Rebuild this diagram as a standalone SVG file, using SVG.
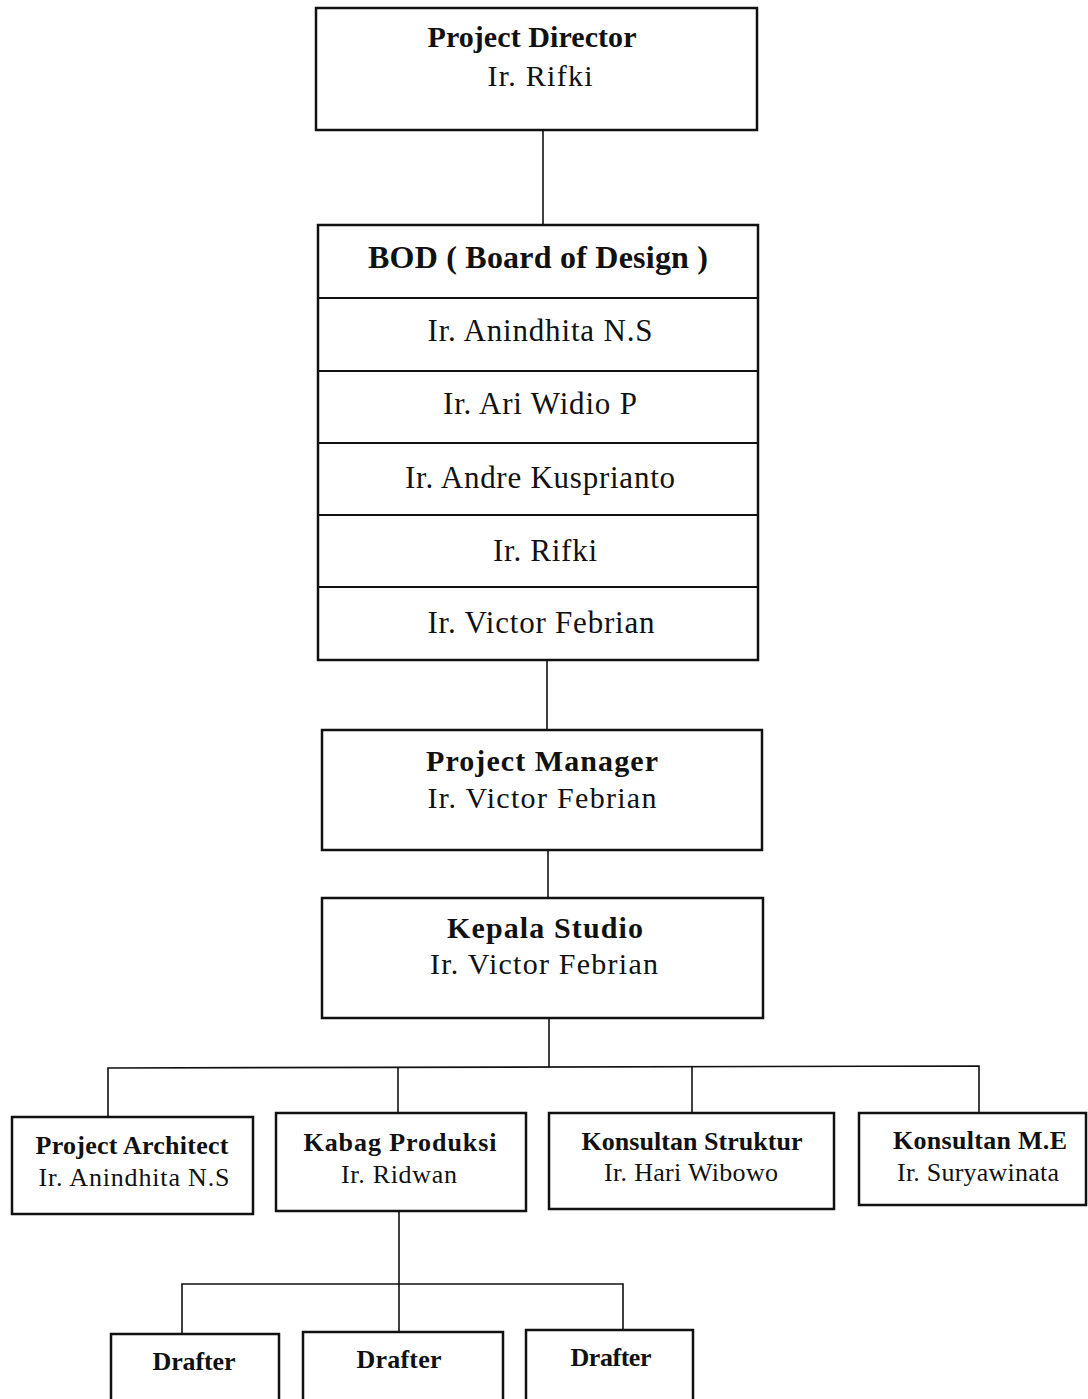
<svg xmlns="http://www.w3.org/2000/svg" width="1088" height="1399" viewBox="0 0 1088 1399">
<style>
.box{fill:#fff;stroke:#111;stroke-width:2.5}
.div{stroke:#111;stroke-width:2}
.ln{fill:none;stroke:#111;stroke-width:1.6}
text{font-family:"Liberation Serif","Times New Roman",serif;fill:#111;text-anchor:middle}
.t{font-weight:bold;font-size:30px}
.n{font-size:30px}
.bt{font-weight:bold;font-size:32px}
.bn{font-size:31px}
.st{font-weight:bold;font-size:26px}
.sn{font-size:26px}
</style>
<rect width="1088" height="1399" fill="#fff"/>
<g id="connectors">
<path class="ln" d="M543 130V225"/>
<path class="ln" d="M547 660V730"/>
<path class="ln" d="M548 850V898"/>
<path class="ln" d="M549 1018V1067"/>
<path class="ln" d="M108 1117V1068L979 1066V1113"/>
<path class="ln" d="M398 1067V1113"/>
<path class="ln" d="M692 1066V1113"/>
<path class="ln" d="M399 1211V1332"/>
<path class="ln" d="M182 1334V1284H623V1330"/>
</g>
<g id="project-director">
<rect class="box" x="316" y="8" width="441" height="122"/>
<text class="t" x="532" y="47" textLength="209" lengthAdjust="spacing">Project Director</text>
<text class="n" x="540" y="86" textLength="105" lengthAdjust="spacing">Ir. Rifki</text>
</g>
<g id="bod">
<rect class="box" x="318" y="225" width="440" height="435"/>
<path class="div" d="M318 298H758M318 371H758M318 443H758M318 515H758M318 587H758"/>
<text class="bt" x="538" y="268" textLength="340" lengthAdjust="spacing">BOD ( Board of Design )</text>
<text class="bn" x="540" y="341" textLength="225" lengthAdjust="spacing">Ir. Anindhita N.S</text>
<text class="bn" x="540" y="414" textLength="194" lengthAdjust="spacing">Ir. Ari Widio P</text>
<text class="bn" x="540" y="488" textLength="270" lengthAdjust="spacing">Ir. Andre Kusprianto</text>
<text class="bn" x="545" y="561" textLength="104" lengthAdjust="spacing">Ir. Rifki</text>
<text class="bn" x="541" y="633" textLength="227" lengthAdjust="spacing">Ir. Victor Febrian</text>
</g>
<g id="project-manager">
<rect class="box" x="322" y="730" width="440" height="120"/>
<text class="t" x="542" y="771" textLength="232" lengthAdjust="spacing">Project Manager</text>
<text class="n" x="542" y="808" textLength="229" lengthAdjust="spacing">Ir. Victor Febrian</text>
</g>
<g id="kepala-studio">
<rect class="box" x="322" y="898" width="441" height="120"/>
<text class="t" x="545" y="938" textLength="196" lengthAdjust="spacing">Kepala Studio</text>
<text class="n" x="544" y="974" textLength="228" lengthAdjust="spacing">Ir. Victor Febrian</text>
</g>
<g id="project-architect">
<rect class="box" x="12" y="1117" width="241" height="97"/>
<text class="st" x="132" y="1154" textLength="193" lengthAdjust="spacing">Project Architect</text>
<text class="sn" x="134" y="1186" textLength="191" lengthAdjust="spacing">Ir. Anindhita N.S</text>
</g>
<g id="kabag-produksi">
<rect class="box" x="276" y="1113" width="250" height="98"/>
<text class="st" x="400" y="1151" textLength="193" lengthAdjust="spacing">Kabag Produksi</text>
<text class="sn" x="399" y="1183" textLength="116" lengthAdjust="spacing">Ir. Ridwan</text>
</g>
<g id="konsultan-struktur">
<rect class="box" x="549" y="1113" width="285" height="96"/>
<text class="st" x="692" y="1150" textLength="221" lengthAdjust="spacing">Konsultan Struktur</text>
<text class="sn" x="691" y="1181" textLength="174" lengthAdjust="spacing">Ir. Hari Wibowo</text>
</g>
<g id="konsultan-me">
<rect class="box" x="859" y="1113" width="227" height="92"/>
<text class="st" x="980" y="1149" textLength="174" lengthAdjust="spacing">Konsultan M.E</text>
<text class="sn" x="978" y="1181" textLength="162" lengthAdjust="spacing">Ir. Suryawinata</text>
</g>
<g id="drafter-1">
<rect class="box" x="111" y="1334" width="168" height="80"/>
<text class="st" x="194" y="1370" textLength="83" lengthAdjust="spacing">Drafter</text>
</g>
<g id="drafter-2">
<rect class="box" x="303" y="1332" width="200" height="80"/>
<text class="st" x="399" y="1368" textLength="85" lengthAdjust="spacing">Drafter</text>
</g>
<g id="drafter-3">
<rect class="box" x="526" y="1330" width="167" height="80"/>
<text class="st" x="611" y="1366" textLength="81" lengthAdjust="spacing">Drafter</text>
</g>
</svg>
